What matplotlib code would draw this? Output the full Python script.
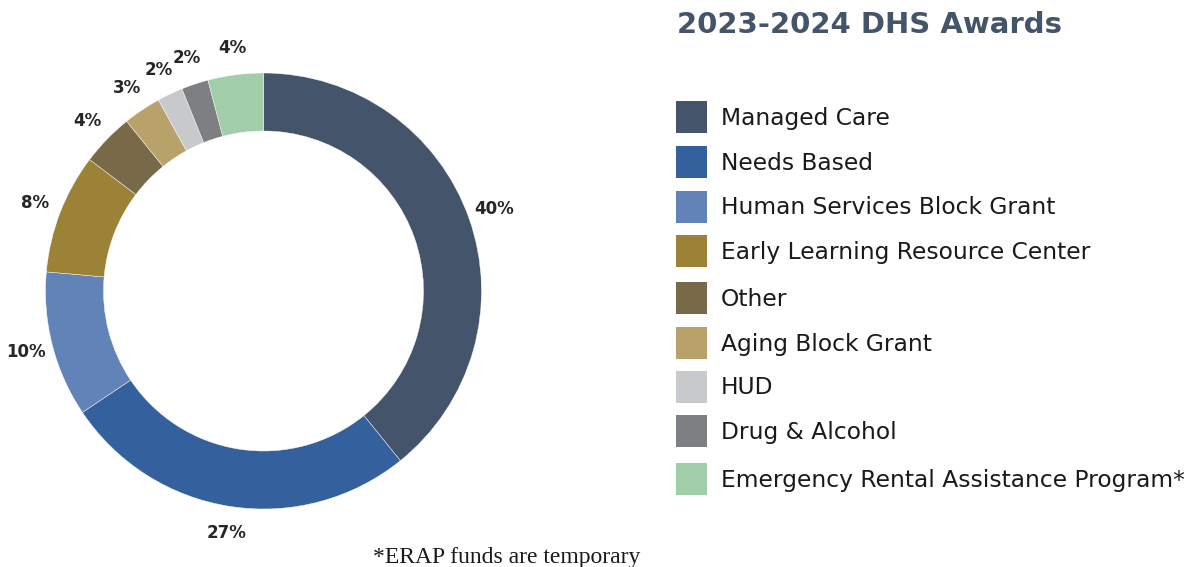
import matplotlib
matplotlib.use("Agg")
import matplotlib.pyplot as plt
from matplotlib.patches import Rectangle
import numpy as np

categories = ["Managed Care", "Needs Based", "Human Services Block Grant",
              "Early Learning Resource Center", "Other", "Aging Block Grant",
              "HUD", "Drug & Alcohol", "Emergency Rental Assistance Program*"]
values = [39.2, 26.4, 10.8, 8.9, 3.9, 2.8, 1.9, 2.0, 4.1]
pct_labels = ["40%", "27%", "10%", "8%", "4%", "3%", "2%", "2%", "4%"]
colors = ["#44546A", "#35609E", "#6283B8", "#9C8236", "#786A49",
          "#B8A269", "#C8C9CB", "#7D7F83", "#A1CDA8"]

W, H = 1189, 567
fig = plt.figure(figsize=(W / 100, H / 100), dpi=100)

# donut axes: center (263.5, 291) px, outer radius 218 px
cx, cy, R = 263.5, 291, 218
half = 280
ax = fig.add_axes([(cx - half) / W, (H - cy - half) / H, 2 * half / W, 2 * half / H])

wedges, _ = ax.pie(values, colors=colors, startangle=90, counterclock=False,
                   radius=R, wedgeprops=dict(width=R - 160, edgecolor="white", linewidth=0.3))
ax.set_xlim(-half, half)
ax.set_ylim(-half, half)
ax.set_aspect("equal")
ax.axis("off")

label_r = 245
for w, lab in zip(wedges, pct_labels):
    ang = np.deg2rad((w.theta1 + w.theta2) / 2)
    x, y = label_r * np.cos(ang), label_r * np.sin(ang)
    ax.text(x, y, lab, ha="center", va="center",
            fontsize=12, fontweight="bold", color="#262626", family="DejaVu Sans")

# title
fig.text(677 / W, 1 - 25 / H, "2023-2024 DHS Awards", ha="left", va="center",
         fontsize=21, fontweight="bold", color="#44546A", family="DejaVu Sans")

# legend
row_y = [117, 162, 207, 251, 298, 343, 387, 431, 479]
for y, c, name in zip(row_y, colors, categories):
    fig.add_artist(Rectangle((676 / W, 1 - (y + 16) / H), 31 / W, 32 / H,
                             transform=fig.transFigure, facecolor=c, edgecolor="none"))
    fig.text(721 / W, 1 - (y + 1) / H, name, ha="left", va="center",
             fontsize=16.8, color="#1a1a1a", family="DejaVu Sans")

fig.text(507 / W, 1 - 557 / H, "*ERAP funds are temporary", ha="center", va="center",
         fontsize=17, color="#1a1a1a", family="Liberation Serif")

fig.savefig("out.png", dpi=100)
